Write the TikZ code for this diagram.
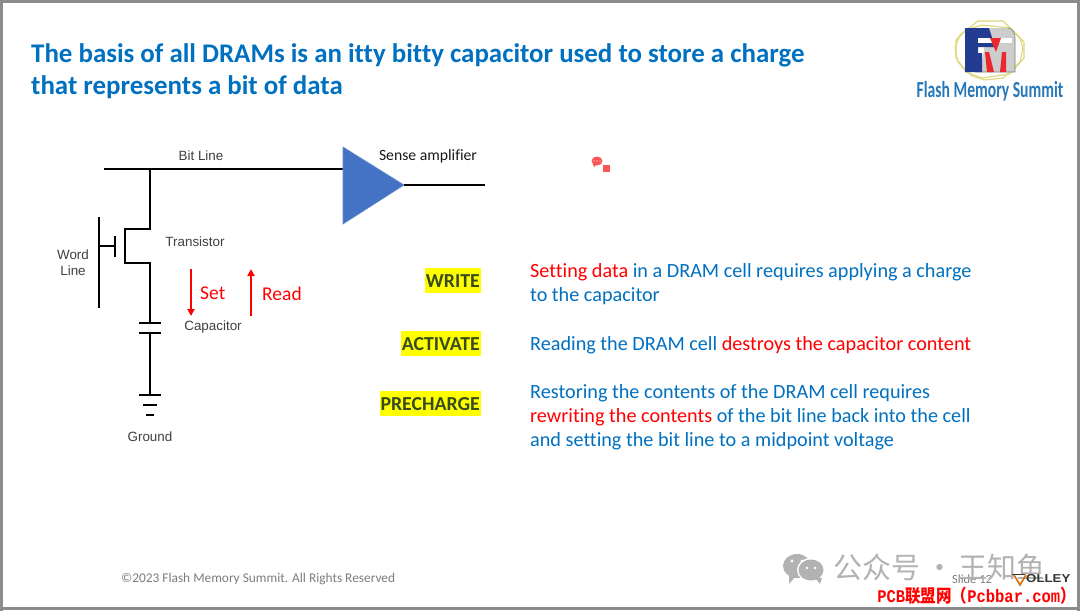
\documentclass[tikz,border=0pt]{standalone}
\usepackage{fontspec}
\setmainfont{Carlito}[Ligatures=NoCommon]
\newfontfamily\helv{Liberation Sans}
\newfontfamily\cjk{Noto Sans CJK SC}
\newfontfamily\lmono{Liberation Mono}
\usetikzlibrary{arrows.meta}
\definecolor{slideblue}{RGB}{0,112,192}
\definecolor{ampblue}{RGB}{68,114,196}
\definecolor{ampedge}{RGB}{100,140,200}
\definecolor{frameg}{RGB}{140,140,140}
\definecolor{hl}{RGB}{255,255,0}
\definecolor{kwtext}{RGB}{55,75,30}
\definecolor{wmg}{RGB}{178,178,178}
\definecolor{logogold}{RGB}{222,214,120}
\definecolor{logoblue}{RGB}{35,60,145}
\definecolor{logogray}{RGB}{205,205,205}
\definecolor{logored}{RGB}{235,40,45}
\definecolor{logotext}{RGB}{40,120,185}
\definecolor{cmtred}{RGB}{250,85,85}
\definecolor{footg}{RGB}{125,125,125}
\tikzset{
  x=1pt,y=-1pt,
  wire/.style={line width=2.7pt,black},
  circ/.style={font=\helv\fontsize{13.4}{15.8}\selectfont,text=black!75,inner sep=0pt,align=center},
  redarrow/.style={line width=2pt,red,-{Triangle[length=7pt,width=7pt]}},
  redlabel/.style={font=\fontsize{19.5}{22}\selectfont,text=red,inner sep=0pt,anchor=west},
  titletext/.style={font=\bfseries\fontsize{26.9}{32}\selectfont,text=slideblue,inner sep=0pt,anchor=west},
  keyword/.style={font=\bfseries\fontsize{19.8}{24}\selectfont,text=kwtext,fill=hl,inner xsep=1pt,inner ysep=2pt,text height=17.5pt,text depth=3.5pt,anchor=east},
  bodytext/.style={font=\fontsize{20.2}{24}\selectfont,text=slideblue,inner sep=0pt,anchor=west},
}
\begin{document}
\begin{tikzpicture}
\useasboundingbox (0,0) rectangle (1080,611);
\fill[white] (0,0) rectangle (1080,611);
% slide frame
\fill[frameg] (0,0) rectangle (1080,3);
\fill[frameg] (1077,0) rectangle (1080,611);
\fill[frameg] (0,606.5) rectangle (1080,610);
\fill[frameg] (0,0) rectangle (3,611);

% title
\node[titletext] (t1) at (31,55) {The basis of all DRAMs is an itty bitty capacitor used to store a charge};
\node[titletext] (t2) at (31,87) {that represents a bit of data};

% logo
\draw[logogold,line width=1.1pt] (978,21) -- (1003,21) -- (1020,38) -- (1023,48) -- (1020,62) -- (1003,78) -- (985,80) -- (972,76) -- (958,62) -- (955,48) -- (960,35) -- cycle;
\draw[logogold,line width=1.1pt] (982,25) -- (1010,28) -- (1024,42) -- (1024,58) -- (1010,74) -- (982,78) -- (966,72) -- (956,58) -- (956,40) -- (966,30) -- cycle;
\fill[logogray] (988,28) -- (1008,28) to[out=0,in=90] (1015,38) -- (1015,72) -- (980,72) -- cycle;
\draw[gray,line width=.6pt] (1008,28) to[out=0,in=90] (1015,38) -- (1015,72) -- (975,72);
\fill[logoblue] (965,28) -- (989,28) -- (995,47) -- (978,47) -- (978,53) -- (982,53) -- (982,72) -- (965,72) -- cycle;
\fill[white] (978,38) -- (1012,38) -- (1012,43) -- (978,43) -- cycle;
\fill[logored] (990,38) -- (1001,38) -- (996,52) -- cycle;
\fill[logored] (985,52) -- (989,52) -- (994,72) -- (987,72) -- cycle;
\fill[logored] (1002,52) -- (1006,52) -- (1006,72) -- (1000,72) -- cycle;
\node[inner sep=0pt,text=logotext,font=\bfseries\fontsize{23}{26}\selectfont,xscale=.68] (logotxt) at (990,91) {Flash Memory Summit};

% circuit coordinates
\coordinate (blL) at (104,169);
\coordinate (blT) at (150,169);
\coordinate (d1) at (150,229);
\coordinate (d2) at (125,229);
\coordinate (s2) at (125,263);
\coordinate (s1) at (150,263);
\coordinate (capT) at (150,323);
\coordinate (capB) at (150,334);
\coordinate (gnd) at (150,395);
\coordinate (wlT) at (99,217);
\coordinate (wlB) at (99,308);
\coordinate (wlM) at (99,246);
\coordinate (gM) at (115,246);
\coordinate (gT) at (115,236);
\coordinate (gB) at (115,257);

% amplifier
\coordinate (ampIn) at (343,169);
\coordinate (ampOut) at (404,185);
\coordinate (out) at (485,185);
\draw[wire] (blL) -- (ampIn);
\draw[wire] (ampOut) -- (out);
\fill[ampblue,draw=ampedge,line width=.6pt] (343,147) -- (404,185) -- (343,224) -- cycle;

% wires
\draw[wire] (blT) -- (d1) -- (d2) -- (s2) -- (s1) -- (capT);
\draw[wire] (capB) -- (gnd);
\draw[wire] (wlT) -- (wlB);
\draw[wire] (wlM) -- (gM);
\draw[wire] (gT) -- (gB);
\draw[wire] (139,323) -- (161,323);
\draw[wire] (139,333) -- (161,333);
\draw[wire] (139,395) -- (161,395);
\draw[wire] (143,405) -- (157,405);
\draw[wire] (146,415) -- (154,415);

% circuit labels
\node[circ] (bitline) at (201,156) {Bit Line};
\node[circ] (wordline) at (73,263) {Word\\Line};
\node[circ] (transistor) at (195,242) {Transistor};
\node[circ] (capacitor) at (213,327) {Capacitor};
\node[circ] (ground) at (150,437) {Ground};
\node[inner sep=0pt,font=\fontsize{15.7}{18}\selectfont,text=black!90] (sense) at (428,156.5) {Sense amplifier};

% red arrows
\coordinate (setT) at (191,269);
\coordinate (setB) at (191,316);
\coordinate (readB) at (251,316);
\coordinate (readT) at (251,269);
\draw[redarrow] (setT) -- (setB);
\draw[redarrow] (readB) -- (readT);
\node[redlabel] (set) at (200,293.5) {Set};
\node[redlabel] (read) at (262,293.5) {Read};

% comment marker
\fill[cmtred] (597,161) ellipse (5.5pt and 4.5pt);
\fill[cmtred] (593,164) -- (597,164) -- (594,167) -- cycle;
\fill[white] (594,161) circle (.6pt) (597,161) circle (.6pt) (600,161) circle (.6pt);
\fill[cmtred] (603,165) rectangle (610,172);

% keywords
\node[keyword] (write) at (481,280.5) {WRITE};
\node[keyword] (activate) at (481,343.3) {ACTIVATE};
\node[keyword] (precharge) at (481,403.5) {PRECHARGE};

% body text
\node[bodytext] (b1a) at (530,272) {\textcolor{red}{Setting data} in a DRAM cell requires applying a charge};
\node[bodytext] (b1b) at (530,296) {to the capacitor};
\node[bodytext] (b2) at (530,345) {Reading the DRAM cell \textcolor{red}{destroys the capacitor content}};
\node[bodytext] (b3a) at (530,393) {Restoring the contents of the DRAM cell requires};
\node[bodytext] (b3b) at (530,417) {\textcolor{red}{rewriting the contents} of the bit line back into the cell};
\node[bodytext] (b3c) at (530,441) {and setting the bit line to a midpoint voltage};

% footer
\node[inner sep=0pt,anchor=west,font=\fontsize{13.35}{15}\selectfont,text=footg] (copy) at (121,579.5) {©2023 Flash Memory Summit. All Rights Reserved};

% watermark
\node[inner sep=0pt,anchor=west,font=\fontsize{12.5}{14}\selectfont,text=footg] (slide) at (952,579.5) {Slide 12};
\fill[wmg] (797,566) ellipse (14pt and 12pt);
\fill[wmg] (789,575) -- (795,577) -- (789,584) -- cycle;
\fill[white] (811,570) ellipse (14pt and 12pt);
\fill[wmg] (811,570) ellipse (12.5pt and 10.5pt);
\fill[wmg] (815,578) -- (822,578) -- (820,584) -- cycle;
\fill[white] (792,561) circle (1.6pt) (802,561) circle (1.6pt) (807,568) circle (1.3pt) (815,568) circle (1.3pt);
\node[inner sep=0pt,anchor=west,font=\cjk\fontsize{29}{32}\selectfont,text=wmg] (wm) at (833,567.5) {公众号\,·\,王知鱼};
\node[inner sep=0pt,anchor=west,font=\helv\bfseries\fontsize{11.5}{14}\selectfont,text=black!80,xscale=1.15] (volley) at (1026,578.5) {OLLEY};
\draw[line width=1.6pt,orange!85!black] (1014,575) -- (1020,585) -- (1026,575);
\draw[line width=1pt,black!80] (1012,574) -- (1025,574);
\node[inner sep=0pt,anchor=east,text=red,font=\lmono\bfseries\fontsize{15.5}{20}\selectfont,yscale=1.15] (pcb) at (1076,596) {PCB{\cjk\bfseries 联盟网（}Pcbbar.com{\cjk\bfseries ）}};
\end{tikzpicture}
\end{document}
